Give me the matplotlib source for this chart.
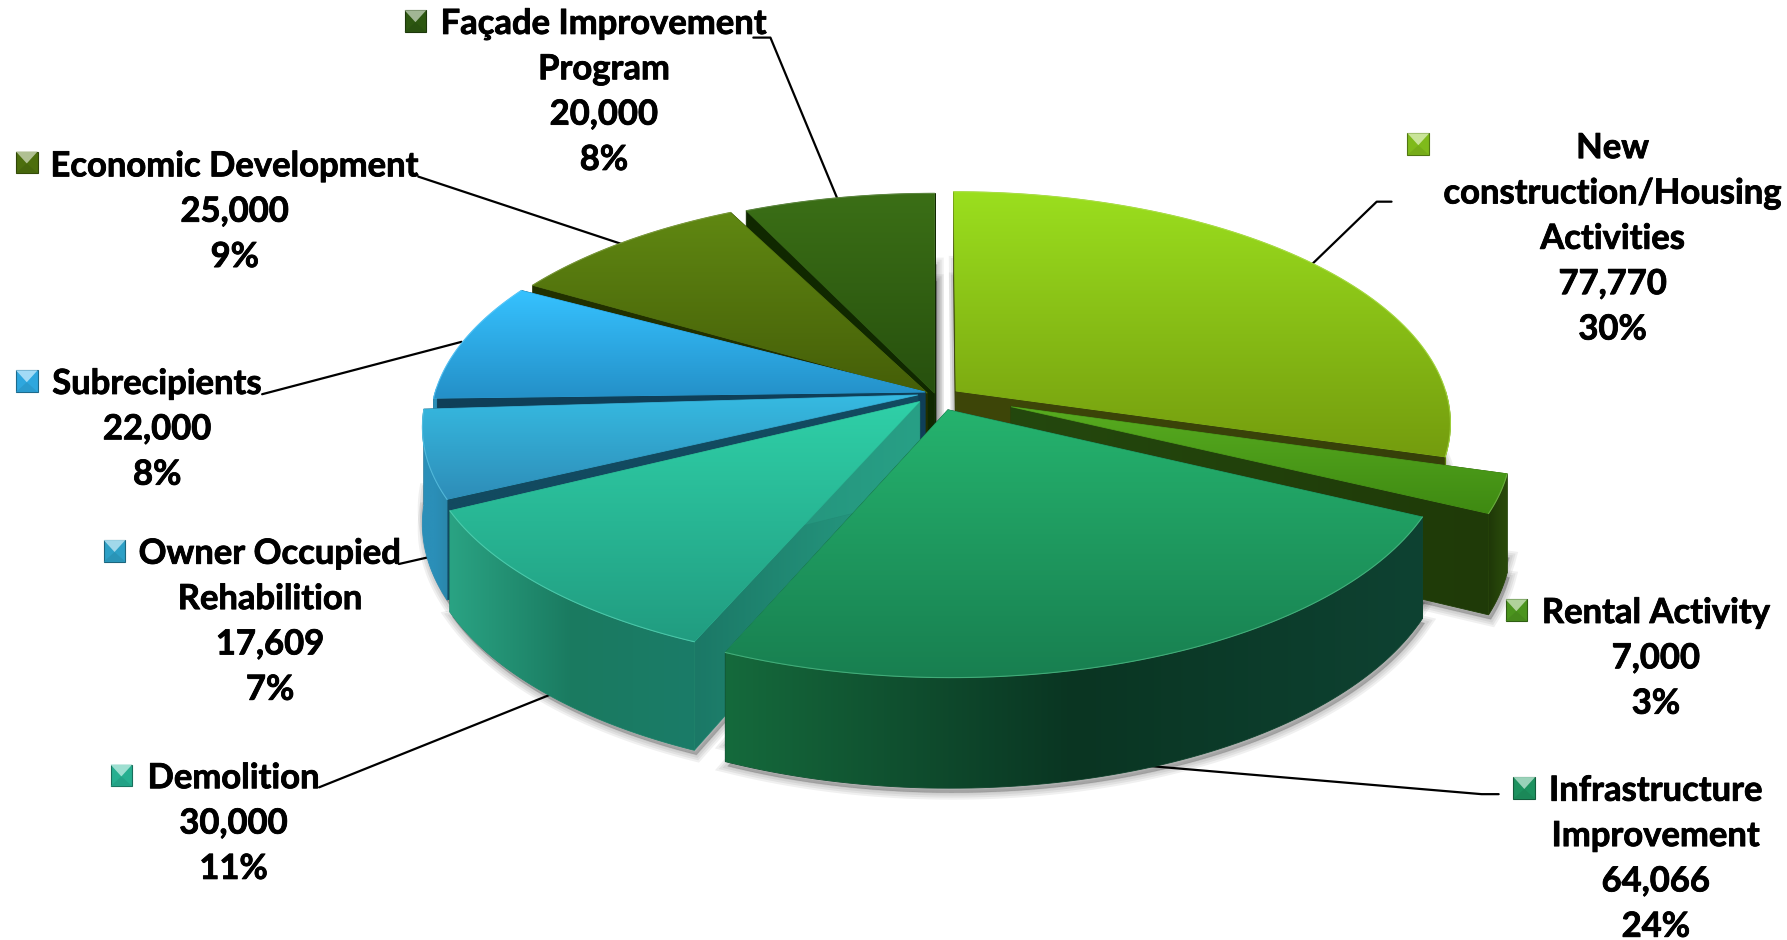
import numpy as np
import matplotlib
matplotlib.use('Agg')
import matplotlib.pyplot as plt
import matplotlib.patheffects as pe
from matplotlib.colors import to_rgb
from matplotlib.patches import Polygon

# data, clockwise from 12 o'clock
labels = ['New\nconstruction/Housing\nActivities', 'Rental Activity', 'Infrastructure\nImprovement',
          'Demolition', 'Owner Occupied\nRehabilition', 'Subrecipients', 'Economic Development',
          'Façade Improvement\nProgram']
values = [77770, 7000, 64066, 30000, 17609, 22000, 25000, 20000]
percents = ['30%', '3%', '24%', '11%', '7%', '8%', '9%', '8%']

# look of each slice
explode = [0.045, 0.166, 0.078, 0.048, 0.035, 0.02, 0.015, 0.0]
turn = [25, 0, 0, -5, 0, 0, -44, 0]
trim_start = [0, 0, 0, 0, 0, 0, 2, 1.8]
trim_end = [0, 0, 0, 1, 2, 0, -0.5, 0]
top_cols = [('#9bdf1e', '#749c0e'), ('#58ac20', '#3f8a12'), ('#25b36e', '#187f50'), ('#2fd0a8', '#219c80'),
            ('#36bbe2', '#2e8db8'), ('#36c2ff', '#2490c8'), ('#608812', '#455e08'), ('#3b6f16', '#27500e')]
# rim colours run from the slice's first edge to its last edge
rim_cols = [('#6a8c10', '#5a7a0c', '#5a7a0c'), ('#2a4a0a', '#26440a', '#1f3808'), ('#0e4232', '#0a3522', '#156a3c'),
            ('#1b7c68', '#1a7a60', '#2aa383'), ('#2a88ac', '#2b8fb8', '#2b8fb8'), ('#2b8fb8', '#2b8fb8', '#2b8fb8'),
            ('#3a5006', '#3a5006', '#3a5006'), ('#20400a', '#20400a', '#20400a')]
cut_cols = [('#3e4608', '#36400a'), ('#24480e', '#1f3a08'), ('#0e4232', '#0e4232'), ('#28a086', '#1b7866'),
            ('#124a60', '#124a60'), ('#0f3f58', '#0f3f58'), ('#213000', '#213000'), ('#102800', '#102800')]
key_cols = ['#86c41c', '#4f9c20', '#1f9a64', '#28b898', '#2fa8d0', '#30b0ea', '#50740e', '#2f5c12']
draw_order = [7, 6, 5, 4, 0, 1, 3, 2]

# label layout, in pixels of the 1568 wide view
label_x = [1415, 1453, 1453, 205, 237, 138, 206, 530]
label_y = [130, 538, 694, 683, 486, 337, 146, 21]
key_xy = [(1235, 117), (1321, 526), (1328, 682), (97, 671), (91, 474), (14, 325), (14, 133), (355, 9)]
line_h = 39.8
leaders = [[(1221, 177), (1208, 177), (1148, 235)], [(1005, 672), (1300, 697), (1315, 697)],
           [(280, 691), (482, 610)], [(350, 495), (385, 487)], [(230, 346), (405, 300)],
           [(367, 155), (545, 214)], [(661, 33), (676, 33), (735, 175)]]

# projection of the tilted pie
cx, cy = 820, 345
R, Rk, persp, H = 430, 199, 0.135, 83


def project(u, v, z=0.0):
    s = 1 / (1 + persp * v)
    return cx + R * u * s, cy - Rk * v * s + z * H * s


def mix(cols, n):
    cols = np.array([to_rgb(c) for c in cols])
    t = np.linspace(0, len(cols) - 1, n)
    return np.array([np.interp(t, range(len(cols)), cols[:, i]) for i in range(3)]).T


def fill(ax, poly, cols, z, axis):
    # polygon filled by an image gradient, axis 0 runs down the page, axis 1 left to right
    xs, ys = zip(*poly)
    grad = mix(cols, 256)
    grad = grad[:, None, :] if axis == 0 else grad[None, :, :]
    im = ax.imshow(grad, extent=[min(xs), max(xs), max(ys), min(ys)], aspect='auto', zorder=z, interpolation='bilinear')
    clip = Polygon(poly, transform=ax.transData, fc='none', ec='none')
    ax.add_patch(clip)
    im.set_clip_path(clip)
    # same outline underneath so the clipped edge is not jagged
    ax.add_patch(Polygon(poly, fc='none', ec=grad.mean(axis=(0, 1)), lw=0.6, zorder=z - 0.5))


fig = plt.figure(figsize=(17.87, 9.40), dpi=100)
ax = fig.add_axes([0, 0, 1, 1])
plt.rcParams['font.family'] = ['Lato', 'DejaVu Sans']

edges = np.concatenate([[0], np.cumsum(values)]) / sum(values) * 2 * np.pi
shapes = {}
for i in range(len(values)):
    a0 = edges[i] + np.radians(trim_start[i])
    a1 = edges[i + 1] - np.radians(trim_end[i])
    mid = (edges[i] + edges[i + 1]) / 2 + np.radians(turn[i])
    ou, ov = explode[i] * np.sin(mid), explode[i] * np.cos(mid)
    a = np.linspace(a0, a1, 80)
    u, v = ou + np.sin(a), ov + np.cos(a)
    shapes[i] = dict(arc_top=[project(p, q) for p, q in zip(u, v)],
                     arc_bot=[project(p, q, 1) for p, q in zip(u, v)],
                     arc_low=[project(p, q, 0.8) for p, q in zip(u, v)],
                     front=np.cos(a) < 0.02,
                     apex_low=project(ou, ov, 0.8), apex_bot=project(ou, ov, 1), ou=ou, ov=ov)

# soft shadow, only from the lower part of each slice
for i, sh in shapes.items():
    for outline in ([sh['apex_low']] + sh['arc_low'], [sh['apex_bot']] + sh['arc_bot']):
        for w in [10, 7, 4, 1]:
            ax.add_patch(Polygon([(x + 2, y + 4) for x, y in outline], fc='black', ec='black', alpha=0.06, lw=w, zorder=1))

for seg in leaders:
    xs, ys = zip(*seg)
    ax.plot(xs, ys, color='black', lw=1.6, zorder=2, solid_capstyle='round')

z = 10
for i in draw_order:
    sh = shapes[i]
    apex_t, apex_b = project(sh['ou'], sh['ov']), sh['apex_bot']
    # the two cut faces
    for pick in (0, -1):
        end_t, end_b = sh['arc_top'][pick], sh['arc_bot'][pick]
        cols = cut_cols[i] if end_t[0] > apex_t[0] else cut_cols[i][::-1]
        fill(ax, [apex_t, end_t, end_b, apex_b], cols, z, 1)
        z += 1
    # outer wall, only the part turned to the viewer
    if sh['front'].sum() > 1:
        keep = np.where(sh['front'])[0]
        top = [sh['arc_top'][k] for k in keep]
        bot = [sh['arc_bot'][k] for k in keep]
        cols = rim_cols[i] if top[0][0] < top[-1][0] else rim_cols[i][::-1]
        fill(ax, top + bot[::-1], cols, z, 1)
    z += 1
    # top face
    fill(ax, [apex_t] + sh['arc_top'], top_cols[i], z, 0)
    z += 1
    # thin light edge where top meets the rim
    ax.plot(*zip(*sh['arc_top']), color=mix([top_cols[i][0], '#ffffff'], 5)[1], lw=0.8, alpha=0.6, zorder=z)
    z += 1

# labels with bevelled keys
for i in range(len(values)):
    lines = labels[i].split('\n') + [f'{values[i]:,}', percents[i]]
    for j, line in enumerate(lines):
        ax.text(label_x[i], label_y[i] + j * line_h, line, ha='center', va='center',
                fontsize=24.9, fontweight='bold', color='black', zorder=100,
                path_effects=[pe.withStroke(linewidth=0.6, foreground='black')])
    kx, ky = key_xy[i]
    d = 19
    base = np.array(to_rgb(key_cols[i]))
    c = (kx + d / 2, ky + d * 0.55)
    ax.add_patch(Polygon([(kx, ky), (kx + d, ky), (kx + d, ky + d), (kx, ky + d)], fc=base * 0.95, ec=base * 0.6, lw=0.8, zorder=100))
    ax.add_patch(Polygon([(kx, ky), (kx + d, ky), c], fc=base * 0.45 + 0.55, ec='none', zorder=101))
    ax.add_patch(Polygon([(kx, ky + d), (kx + d, ky + d), c], fc=base * 0.88, ec='none', zorder=101))

ax.set_xlim(0, 1568)
ax.set_ylim(825, 0)
ax.axis('off')
fig.savefig('out.png', dpi=100, facecolor='white')
